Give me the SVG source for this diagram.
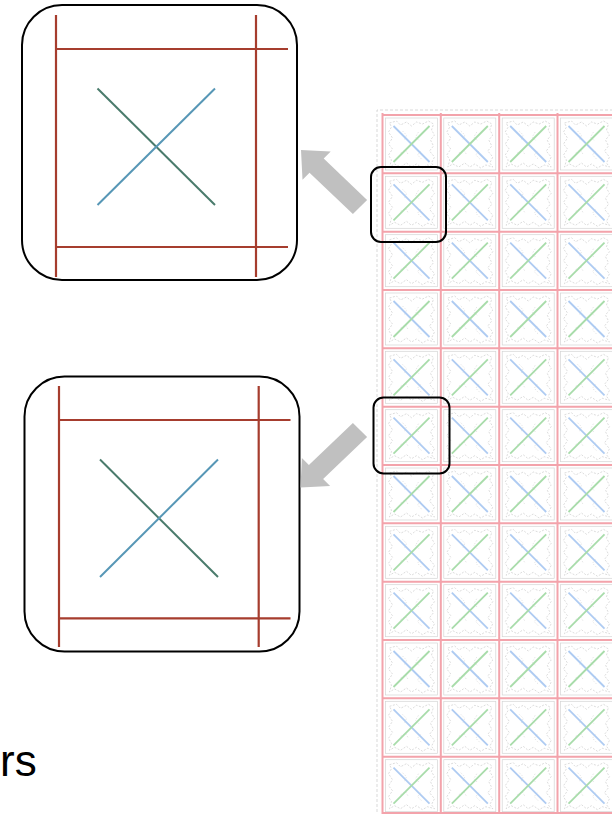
<svg xmlns="http://www.w3.org/2000/svg" xmlns:xlink="http://www.w3.org/1999/xlink" width="612" height="814" viewBox="0 0 612 814">
<style>
.grid{stroke:#f3a3ab;stroke-width:2;fill:none}
.frame{fill:#fff;stroke:#000;stroke-width:2}
.hl{fill:none;stroke:#000;stroke-width:2}
.guide{stroke:#a63d2e;stroke-width:2.2;fill:none}
.arrow{fill:#c0c0c0;stroke:none}
.lbl{font-family:"Liberation Sans",Arial,sans-serif;font-size:44px;fill:#000}
</style>
<defs>
<g id="cell">
<rect x="3" y="3" width="52" height="52" fill="none" stroke="#d4d4d4" stroke-width="0.7"/>
<path d="M7 8 L14 6 L18 10 L24 7 L29 11 L34 7 L40 9 L46 6 L51 9 L49 15 L52 20 L48 25 L51 31 L47 36 L52 42 L49 48 L52 52 L45 50 L40 53 L34 49 L29 52 L24 48 L18 52 L12 49 L7 52 L9 45 L6 40 L10 34 L6 29 L10 23 L6 17 L9 12 Z" fill="none" stroke="#c4c4c4" stroke-width="0.6" stroke-dasharray="2 1.5"/>
<path d="M20 16 L24 20 L22 25 M36 17 L33 22 L37 26 M18 38 L23 35 L26 40 M38 36 L35 40 L39 44" fill="none" stroke="#cccccc" stroke-width="0.5" stroke-dasharray="1.5 1.5"/>
<line x1="11" y1="11" x2="47" y2="47" stroke="#aecbf2" stroke-width="1.8"/>
<line x1="11" y1="47" x2="47" y2="11" stroke="#a8dcaa" stroke-width="1.8"/>
</g>
</defs>
<rect width="612" height="814" fill="#fff"/>
<g id="grid-sheet">
<path d="M377 812 V110 H612" fill="none" stroke="#cfcfcf" stroke-width="0.8" stroke-dasharray="3 2"/>
<g id="cells">
<use href="#cell" x="382.5" y="115"/><use href="#cell" x="440.8" y="115"/><use href="#cell" x="499.2" y="115"/><use href="#cell" x="557.5" y="115"/>
<use href="#cell" x="382.5" y="173.3"/><use href="#cell" x="440.8" y="173.3"/><use href="#cell" x="499.2" y="173.3"/><use href="#cell" x="557.5" y="173.3"/>
<use href="#cell" x="382.5" y="231.7"/><use href="#cell" x="440.8" y="231.7"/><use href="#cell" x="499.2" y="231.7"/><use href="#cell" x="557.5" y="231.7"/>
<use href="#cell" x="382.5" y="290"/><use href="#cell" x="440.8" y="290"/><use href="#cell" x="499.2" y="290"/><use href="#cell" x="557.5" y="290"/>
<use href="#cell" x="382.5" y="348.3"/><use href="#cell" x="440.8" y="348.3"/><use href="#cell" x="499.2" y="348.3"/><use href="#cell" x="557.5" y="348.3"/>
<use href="#cell" x="382.5" y="406.7"/><use href="#cell" x="440.8" y="406.7"/><use href="#cell" x="499.2" y="406.7"/><use href="#cell" x="557.5" y="406.7"/>
<use href="#cell" x="382.5" y="465"/><use href="#cell" x="440.8" y="465"/><use href="#cell" x="499.2" y="465"/><use href="#cell" x="557.5" y="465"/>
<use href="#cell" x="382.5" y="523.3"/><use href="#cell" x="440.8" y="523.3"/><use href="#cell" x="499.2" y="523.3"/><use href="#cell" x="557.5" y="523.3"/>
<use href="#cell" x="382.5" y="581.7"/><use href="#cell" x="440.8" y="581.7"/><use href="#cell" x="499.2" y="581.7"/><use href="#cell" x="557.5" y="581.7"/>
<use href="#cell" x="382.5" y="640"/><use href="#cell" x="440.8" y="640"/><use href="#cell" x="499.2" y="640"/><use href="#cell" x="557.5" y="640"/>
<use href="#cell" x="382.5" y="698.3"/><use href="#cell" x="440.8" y="698.3"/><use href="#cell" x="499.2" y="698.3"/><use href="#cell" x="557.5" y="698.3"/>
<use href="#cell" x="382.5" y="756.7"/><use href="#cell" x="440.8" y="756.7"/><use href="#cell" x="499.2" y="756.7"/><use href="#cell" x="557.5" y="756.7"/>
</g>
<path class="grid" d="M382.5 113 V814 M440.8 113 V814 M499.2 113 V814 M557.5 113 V814 M381.5 115 H612 M381.5 173.3 H612 M381.5 231.7 H612 M381.5 290 H612 M381.5 348.3 H612 M381.5 406.7 H612 M381.5 465 H612 M381.5 523.3 H612 M381.5 581.7 H612 M381.5 640 H612 M381.5 698.3 H612 M381.5 756.7 H612 M381.5 813 H612"/>
</g>
<g id="highlight-top"><rect class="hl" x="371" y="167" width="75" height="75" rx="10"/></g>
<g id="highlight-bottom"><rect class="hl" x="373.5" y="397.5" width="76" height="76" rx="10"/></g>
<g id="zoom-top">
<rect class="frame" x="22" y="5" width="275" height="275" rx="40"/>
<path class="guide" d="M56 15 V277 M256 15 V277 M56 49 H288 M56 247 H288"/>
<line x1="97.5" y1="88.5" x2="215" y2="205" stroke="#4a7b6c" stroke-width="2"/>
<line x1="97.5" y1="205" x2="215" y2="88.5" stroke="#5797b6" stroke-width="2"/>
</g>
<g id="zoom-bottom">
<rect class="frame" x="24.5" y="376.5" width="275" height="275" rx="40"/>
<path class="guide" d="M59 386 V647 M258.7 386 V647 M59 420 H290.5 M59 618.3 H290.5"/>
<line x1="100" y1="459.5" x2="218" y2="577" stroke="#4a7b6c" stroke-width="2"/>
<line x1="100" y1="577" x2="218" y2="459.5" stroke="#5797b6" stroke-width="2"/>
</g>
<g id="connectors">
<polygon class="arrow" points="367.1,199.9 323.7,158.5 330.7,151.5 301,150 302.5,179.7 309.5,172.7 352.9,214.1"/>
<polygon class="arrow" points="367.1,437.1 323.1,479.1 330.1,486.1 300.5,487.5 301.9,457.9 308.9,464.9 352.9,422.9"/>
</g>
<g id="caption"><text class="lbl" x="0" y="776">rs</text></g>
</svg>
